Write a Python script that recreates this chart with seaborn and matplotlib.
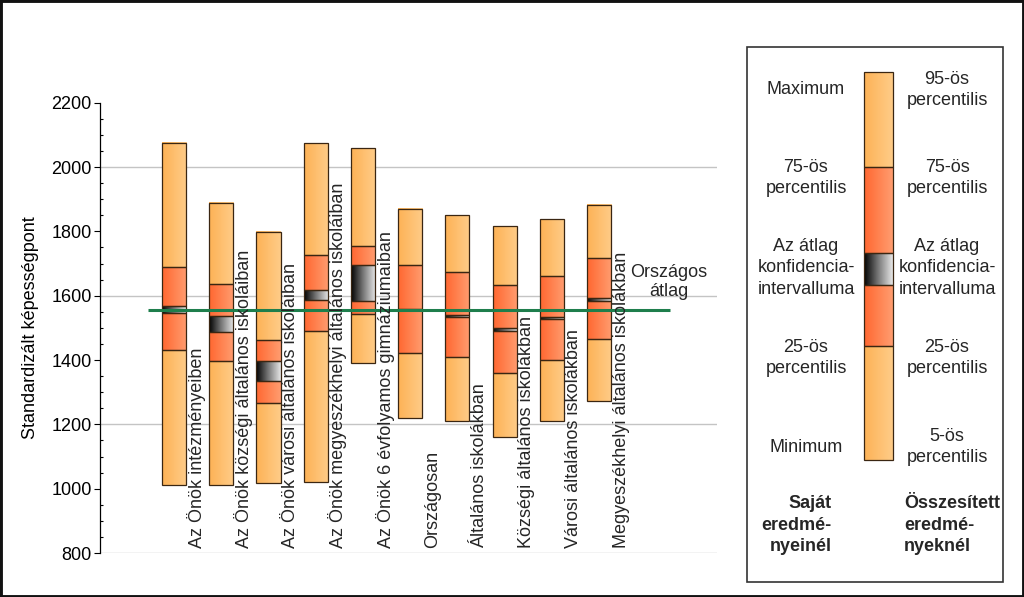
import numpy as np
import pandas as pd
import matplotlib
matplotlib.use("Agg")
import matplotlib.pyplot as plt
from matplotlib.colors import LinearSegmentedColormap
from matplotlib.patches import Rectangle
from matplotlib.ticker import MultipleLocator
import seaborn as sns

# ---------------- data ----------------
categories = [
    "Az Önök intézményeiben",
    "Az Önök községi általános iskoláiban",
    "Az Önök városi általános iskoláiban",
    "Az Önök megyeszékhelyi általános iskoláiban",
    "Az Önök 6 évfolyamos gimnáziumaiban",
    "Országosan",
    "Általános iskolákban",
    "Községi általános iskolákban",
    "Városi általános iskolákban",
    "Megyeszékhelyi általános iskolákban",
]
p_min   = [1010, 1010, 1018, 1021, 1392, 1220, 1211, 1161, 1211, 1274]
p25     = [1430, 1396, 1265, 1489, 1542, 1423, 1408, 1360, 1400, 1464]
ci_low  = [1545, 1487, 1335, 1588, 1583, 1554, 1535, 1490, 1527, 1584]
ci_high = [1569, 1537, 1397, 1619, 1695, 1560, 1541, 1500, 1534, 1592]
p75     = [1688, 1635, 1461, 1728, 1754, 1696, 1675, 1634, 1662, 1716]
p_max   = [2075, 1887, 1797, 2075, 2058, 1871, 1851, 1816, 1838, 1882]
national_avg = 1557
national_label = "Országos\nátlag"
y_label = "Standardizált képességpont"
y_ticks = [800, 1000, 1200, 1400, 1600, 1800, 2000, 2200]
grid_values = [800, 1200, 1600, 2000]

legend_left = ["Maximum", "75-ös\npercentilis", "Az átlag\nkonfidencia-\nintervalluma",
               "25-ös\npercentilis", "Minimum"]
legend_right = ["95-ös\npercentilis", "75-ös\npercentilis", "Az átlag\nkonfidencia-\nintervalluma",
                "25-ös\npercentilis", "5-ös\npercentilis"]
legend_left_title = "Saját\neredmé-\nnyeinél"
legend_right_title = "Összesített\neredmé-\nnyeknél"

# ---------------- style ----------------
sns.set_theme(style="white")
plt.rcParams["font.family"] = ["Liberation Sans", "DejaVu Sans"]
FS = 13
LS = 1.35

light_cmap = LinearSegmentedColormap.from_list("light", ["#FDB256", "#FFCC88"])
red_cmap = LinearSegmentedColormap.from_list("red", ["#FF6730", "#FF9D70"])
ci_cmap = LinearSegmentedColormap.from_list("ci", ["#000000", "#7A7A7A", "#E8E8E8"])
edge_col = "#3A2612"
grad = np.linspace(0, 1, 256).reshape(1, -1)

W, H = 1024, 597
fig = plt.figure(figsize=(W / 100, H / 100), dpi=100)
ax = fig.add_axes([100 / W, 1 - 553 / H, 617 / W, 450.3 / H])

df = pd.DataFrame({
    "cat": categories, "min": p_min, "p25": p25, "cil": ci_low,
    "cih": ci_high, "p75": p75, "max": p_max,
})
segments = [
    ("min", "p25", light_cmap),
    ("p25", "cil", red_cmap),
    ("cil", "cih", ci_cmap),
    ("cih", "p75", red_cmap),
    ("p75", "max", light_cmap),
]

for lo, hi, cmap in segments:
    df["h"] = df[hi] - df[lo]
    n0 = len(ax.patches)
    sns.barplot(data=df, x="cat", y="h", order=categories, bottom=df[lo].values,
                width=0.51, color="#FDB256", edgecolor=edge_col, linewidth=0.9,
                errorbar=None, ax=ax)
    for p in ax.patches[n0:]:
        x0, y0, w, h = p.get_x(), p.get_y(), p.get_width(), p.get_height()
        ax.imshow(grad, extent=[x0, x0 + w, y0, y0 + h], cmap=cmap, aspect="auto",
                  interpolation="bilinear", zorder=2)
        p.set_facecolor("none")
        p.set_zorder(3)

for g in grid_values:
    ax.axhline(g, color="#C4C4C4", lw=1.0, zorder=0.5)

ax.hlines(national_avg, -0.55, 10.5, color="#1E7E4C", lw=2.2, zorder=5)
ax.text(10.47, 1642, national_label, ha="center", va="center", fontsize=FS,
        multialignment="center", linespacing=1.15, zorder=6)

for i, lab in enumerate(categories):
    ax.text(i + 0.47, 815, lab, rotation=90, ha="center", va="bottom", fontsize=FS,
            zorder=6)

ax.set_xlim(-1.57, 11.5)
ax.set_ylim(800, 2200)
ax.set_xticks([])
ax.set_xlabel("")
ax.set_yticks(y_ticks)
ax.yaxis.set_minor_locator(MultipleLocator(50))
ax.tick_params(axis="y", which="major", left=True, direction="out", length=4,
               width=0.8, color="black", labelsize=FS, labelcolor="black", pad=2)
ax.tick_params(axis="y", which="minor", left=True, direction="in", length=2.5,
               width=0.8, color="black")
ax.set_ylabel(y_label, fontsize=FS, labelpad=9, color="black")
for s in ["top", "right", "bottom"]:
    ax.spines[s].set_visible(False)
ax.spines["left"].set_color("black")
ax.spines["left"].set_linewidth(0.9)

# ---------------- legend / frame overlay ----------------
ov = fig.add_axes([0, 0, 1, 1], zorder=10)
ov.set_xlim(0, W)
ov.set_ylim(H, 0)
ov.axis("off")
ov.patch.set_visible(False)

ov.add_patch(Rectangle((0, 0), W, H, fill=False, ec="#111111", lw=3.5))
ov.add_patch(Rectangle((747, 47), 256, 535, fill=False, ec="#333333", lw=1.2))

bar_x0, bar_x1 = 864, 893
bounds = [72, 167, 253, 285, 346, 460]
leg_cmaps = [light_cmap, red_cmap, ci_cmap, red_cmap, light_cmap]
for k, cm in enumerate(leg_cmaps):
    y0, y1 = bounds[k], bounds[k + 1]
    ov.imshow(grad, extent=[bar_x0, bar_x1, y1, y0], cmap=cm, aspect="auto",
              interpolation="bilinear", zorder=2)
    ov.add_patch(Rectangle((bar_x0, y0), bar_x1 - bar_x0, y1 - y0, fill=False,
                           ec=edge_col, lw=0.9, zorder=3))
ov.set_xlim(0, W)
ov.set_ylim(H, 0)

text_y = [90, 178, 268, 358, 447]
for t, y in zip(legend_left, text_y):
    ov.text(806, y, t, ha="center", va="center", fontsize=FS,
            multialignment="center", linespacing=LS)
for t, y in zip(legend_right, text_y):
    ov.text(947, y, t, ha="center", va="center", fontsize=FS,
            multialignment="center", linespacing=LS)
ov.text(832, 525, legend_left_title, ha="right", va="center", fontsize=FS,
        fontweight="bold", multialignment="right", linespacing=LS)
ov.text(904, 525, legend_right_title, ha="left", va="center", fontsize=FS,
        fontweight="bold", multialignment="left", linespacing=LS)

fig.savefig("out.png", dpi=100, facecolor="white")
